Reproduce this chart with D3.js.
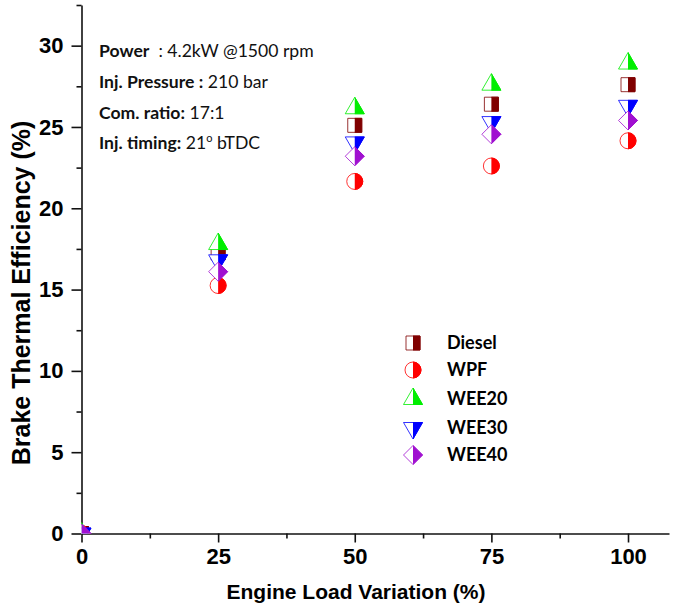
<!DOCTYPE html>
<html>
<head>
<meta charset="utf-8">
<script src="https://cdn.jsdelivr.net/npm/d3@7/dist/d3.min.js"></script>
<style>
  body { margin: 0; background: #fff; }
  svg { display: block; }
  .tick-lbl { font-family: "Liberation Sans Narrow", "Liberation Sans", Arial, sans-serif; font-weight: bold; font-size: 22px; fill: #000; }
  .title { font-family: "Liberation Sans", Arial, sans-serif; font-weight: bold; fill: #000; }
  .note { font-family: Lato, "Open Sans", sans-serif; font-size: 17.6px; fill: #111; white-space: pre; }
  .legend-lbl { font-family: Lato, "Open Sans", sans-serif; font-weight: bold; font-size: 18px; fill: #000; }
</style>
</head>
<body>
<svg id="chart" width="685" height="609"></svg>
<script>
// engine load (%) and brake thermal efficiency (%) per fuel
const loads = [0, 25, 50, 75, 100];
const diesel = [0, 17.25, 25.1, 26.4, 27.6];
const wpf = [0, 15.25, 21.65, 22.6, 24.15];
const wee20 = [0, 17.8, 26.15, 27.6, 28.9];
const wee30 = [0, 16.8, 24.05, 25.3, 26.3];
const wee40 = [0, 16.1, 23.2, 24.55, 25.4];

const seriesNames = ["Diesel", "WPF", "WEE20", "WEE30", "WEE40"];
const seriesValues = [diesel, wpf, wee20, wee30, wee40];
const seriesColors = ["#800000", "#ff0000", "#00ee00", "#0000ff", "#a010d0"];

const xTicks = [0, 25, 50, 75, 100];
const xMinor = [12.5, 37.5, 62.5, 87.5];
const yTicks = [0, 5, 10, 15, 20, 25, 30];
const yMinor = [2.5, 7.5, 12.5, 17.5, 22.5, 27.5, 32.5];

const notes = [
  ["Power", "  : 4.2kW @1500 rpm"],
  ["Inj. Pressure :", " 210 bar"],
  ["Com. ratio:", " 17:1"],
  ["Inj. timing:", " 21", "o", " bTDC"]
];

// marker shapes drawn around (0,0), unrotated so the right-half clip works
const shapes = [
  { draw(c) { c.moveTo(-7, -7); c.lineTo(7, -7); c.lineTo(7, 7); c.lineTo(-7, 7); c.closePath(); } },
  { draw(c) { c.moveTo(8, 0); c.arc(0, 0, 8, 0, 2 * Math.PI); c.closePath(); } },
  { draw(c) { c.moveTo(0, -11); c.lineTo(9.5, 5.5); c.lineTo(-9.5, 5.5); c.closePath(); } },
  { draw(c) { c.moveTo(0, 11); c.lineTo(9.5, -5.5); c.lineTo(-9.5, -5.5); c.closePath(); } },
  { draw(c) { c.moveTo(0, -9.5); c.lineTo(9.5, 0); c.lineTo(0, 9.5); c.lineTo(-9.5, 0); c.closePath(); } }
];

const svg = d3.select("#chart");
const m = { left: 81.5, right: 669, top: 5, bottom: 533.5 };

const x = d3.scaleLinear().domain([0, 107.5]).range([m.left, m.right]);
const y = d3.scaleLinear().domain([0, 32.5]).range([m.bottom, m.top]);

const defs = svg.append("defs");
defs.append("clipPath").attr("id", "plot-clip")
  .append("rect").attr("x", m.left).attr("y", m.top - 20)
  .attr("width", m.right - m.left + 20).attr("height", m.bottom - m.top + 20);
defs.append("clipPath").attr("id", "half-clip")
  .append("rect").attr("x", 0).attr("y", -15).attr("width", 15).attr("height", 30);

function marker(g, i) {
  const p = d3.symbol().type(shapes[i])();
  g.append("path").attr("d", p).attr("fill", "#fff")
    .attr("stroke", seriesColors[i]).attr("stroke-width", 1).attr("stroke-opacity", 0.8);
  g.append("path").attr("d", p).attr("fill", seriesColors[i])
    .attr("stroke", seriesColors[i]).attr("stroke-width", 1)
    .attr("clip-path", "url(#half-clip)");
}

// axes
const xAxis = svg.append("g")
  .attr("transform", "translate(0," + m.bottom + ")")
  .call(d3.axisBottom(x).tickValues(xTicks).tickSize(9).tickPadding(6).tickSizeOuter(0));
svg.append("g")
  .attr("transform", "translate(0," + m.bottom + ")")
  .call(d3.axisBottom(x).tickValues(xMinor).tickSize(5).tickFormat("").tickSizeOuter(0))
  .select(".domain").remove();

const yAxis = svg.append("g")
  .attr("transform", "translate(" + m.left + ",0)")
  .call(d3.axisLeft(y).tickValues(yTicks).tickSize(10).tickPadding(8).tickSizeOuter(0));
svg.append("g")
  .attr("transform", "translate(" + m.left + ",0)")
  .call(d3.axisLeft(y).tickValues(yMinor).tickSize(5).tickFormat("").tickSizeOuter(0))
  .select(".domain").remove();

svg.selectAll(".domain").attr("stroke", "#111").attr("stroke-width", 1.6);
svg.selectAll(".tick line").attr("stroke", "#111").attr("stroke-width", 1.6);
svg.selectAll(".tick text").attr("class", "tick-lbl");
[xAxis, yAxis].forEach(a => a.attr("font-size", null).attr("font-family", null));

// axis titles
svg.append("text").attr("class", "title")
  .attr("x", 356).attr("y", 599).attr("text-anchor", "middle")
  .attr("font-size", 21).text("Engine Load Variation (%)");
svg.append("text").attr("class", "title")
  .attr("transform", "translate(29.5,293) rotate(-90)").attr("text-anchor", "middle")
  .attr("font-size", 25).text("Brake Thermal Efficiency (%)");

// points
const plot = svg.append("g").attr("clip-path", "url(#plot-clip)");
seriesValues.forEach((vals, i) => {
  plot.selectAll(null)
    .data(loads.map((l, j) => [l, vals[j]]))
    .enter().append("g")
    .attr("transform", d => "translate(" + x(d[0]) + "," + y(d[1]) + ")")
    .each(function () { marker(d3.select(this), i); });
});

// condition notes
const noteY = [57, 88, 119, 149];
notes.forEach((n, i) => {
  const t = svg.append("text").attr("class", "note").attr("x", 99).attr("y", noteY[i]);
  t.append("tspan").attr("font-weight", "bold").text(n[0]);
  t.append("tspan").text(n[1]);
  if (n.length > 2) {
    t.append("tspan").attr("font-size", 11).attr("dy", -7).text(n[2]);
    t.append("tspan").attr("dy", 7).text(n[3]);
  }
});

// legend
const legendY = [343, 370, 399, 428, 455];
seriesNames.forEach((name, i) => {
  const g = svg.append("g").attr("transform", "translate(413," + legendY[i] + ")");
  marker(g, i);
  g.append("text").attr("class", "legend-lbl").attr("x", 34).attr("dy", "0.36em").text(name);
});
</script>
</body>
</html>
